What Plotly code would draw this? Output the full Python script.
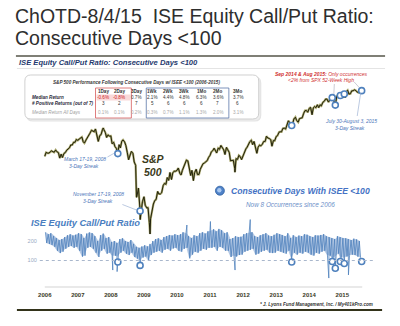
import math
import pandas as pd
import plotly.graph_objects as go

W, H = 400, 326

# ---------------- data ----------------
# S&P 500, semi-monthly readings (1st and 15th of each month), Jan 2006 - Aug 2015
spx_start = "2006-01-01"
spx_values = [
    1248, 1287, 1280, 1280, 1291, 1303, 1295, 1289, 1313, 1294, 1285, 1230,
    1270, 1236, 1277, 1285, 1311, 1321, 1336, 1366, 1367, 1396, 1396, 1427,
    1418, 1431, 1445, 1456, 1403, 1387, 1421, 1452, 1486, 1501, 1536, 1532,
    1519, 1553, 1465, 1406, 1474, 1484, 1547, 1548, 1509, 1451, 1481, 1467,
    1468, 1380, 1395, 1349, 1331, 1288, 1370, 1334, 1409, 1423, 1400, 1360,
    1284, 1214, 1261, 1298, 1277, 1192, 1161, 907, 968, 873, 816, 868,
    903, 843, 826, 827, 735, 757, 811, 852, 877, 883, 942, 923,
    923, 932, 987, 1004, 998, 1053, 1029, 1096, 1036, 1093, 1108, 1107,
    1115, 1136, 1089, 1075, 1115, 1150, 1178, 1211, 1202, 1136, 1070, 1115,
    1027, 1096, 1125, 1079, 1080, 1125, 1146, 1176, 1184, 1197, 1206, 1236,
    1258, 1293, 1307, 1332, 1306, 1281, 1332, 1320, 1361, 1338, 1314, 1266,
    1340, 1316, 1287, 1204, 1204, 1209, 1131, 1224, 1218, 1257, 1244, 1215,
    1258, 1289, 1324, 1343, 1374, 1402, 1419, 1370, 1405, 1330, 1278, 1342,
    1365, 1356, 1375, 1405, 1406, 1465, 1444, 1440, 1427, 1353, 1416, 1413,
    1462, 1472, 1513, 1519, 1518, 1560, 1562, 1552, 1597, 1658, 1631, 1626,
    1614, 1682, 1706, 1661, 1640, 1688, 1695, 1698, 1761, 1798, 1800, 1775,
    1831, 1848, 1741, 1838, 1859, 1841, 1885, 1842, 1883, 1870, 1924, 1937,
    1973, 1973, 1925, 1955, 2003, 1984, 1946, 1862, 2018, 2039, 2053, 1989,
    2058, 1992, 1995, 2096, 2117, 2053, 2059, 2106, 2108, 2123, 2111, 2085,
    2077, 2108, 2104,
]
spx_extremes_dates = ["2007-10-09", "2008-10-10", "2008-11-20", "2009-03-09", "2011-10-03"]
spx_extremes = [1565, 899, 752, 670, 1099]

# ISE Equity Call/Put ratio: monthly band high / low, Jan 2006 - Jul 2015
isee_start = "2006-01-01"
isee_hi = [
    245, 235, 240, 225, 215, 205, 210, 220, 230, 235, 228, 232,
    240, 235, 215, 238, 244, 240, 225, 200, 230, 238, 215, 220,
    195, 200, 190, 210, 214, 200, 195, 205, 185, 170, 165, 172,
    178, 172, 185, 200, 210, 214, 205, 220, 225, 231, 228, 235,
    230, 235, 245, 240, 225, 215, 230, 225, 240, 245, 238, 250,
    255, 260, 250, 262, 255, 240, 245, 210, 215, 225, 220, 222,
    235, 240, 245, 245, 225, 220, 230, 235, 240, 228, 225, 232,
    240, 235, 231, 225, 240, 215, 230, 220, 228, 225, 235, 232,
    225, 220, 230, 228, 231, 235, 225, 220, 215, 210, 225, 220,
    215, 214, 210, 205, 212, 208, 200,
]
isee_lo = [
    190, 185, 180, 170, 150, 138, 145, 160, 170, 175, 165, 170,
    150, 120, 125, 165, 170, 160, 140, 118, 150, 160, 135, 140,
    125, 125, 120, 140, 150, 135, 128, 140, 118, 110, 100, 115,
    120, 100, 128, 140, 145, 150, 140, 155, 160, 150, 162, 165,
    150, 145, 160, 165, 111, 130, 145, 140, 150, 160, 155, 165,
    165, 170, 150, 170, 165, 150, 150, 118, 125, 120, 128, 130,
    145, 150, 155, 160, 130, 135, 145, 150, 155, 140, 138, 140,
    150, 145, 140, 135, 150, 110, 140, 130, 140, 135, 145, 140,
    130, 125, 140, 135, 145, 150, 130, 125, 110, 120, 135, 115,
    115, 120, 125, 130, 128, 120, 115,
]
# isolated single-day spikes of the ratio
spike_dates = ["2008-01-22", "2008-03-10", "2010-04-20", "2011-01-05",
               "2011-10-04", "2012-03-20", "2014-08-05", "2015-03-10"]
spike_values = [51, 43, 282, 300, 51, 310, 10, 26]

# Occurrences of consecutive days with ISEE < 100
occ_dates = ["2008-03-18", "2008-11-19", "2013-06-21", "2014-09-12",
             "2014-10-16", "2014-12-10", "2015-01-23", "2015-08-03"]
occ_spx = [1275, 806, 1596, 1995, 1880, 2030, 2055, 2110]
occ_isee = [92, 75, 92, 95, 60, 95, 85, 95]

years = [2006, 2007, 2008, 2009, 2010, 2011, 2012, 2013, 2014, 2015]
isee_ticks = [100, 200]

# Table
periods = ["1Day", "2Day", "3Day", "1Wk", "2Wk", "3Wk", "1Mo", "2Mo", "3Mo"]
median_ret = [-0.6, -0.8, 0.7, 2.1, 4.4, 4.8, 6.3, 3.6, 3.7]
pos_ret = [3, 2, 7, 5, 6, 6, 6, 7, 6]
median_all = [0.1, 0.1, 0.2, 0.3, 0.7, 1.1, 1.3, 2.0, 3.1]

# ---------------- series assembly ----------------
occ_idx = pd.to_datetime(occ_dates)
spx = pd.concat([
    pd.Series(spx_values, index=pd.date_range(spx_start, periods=len(spx_values), freq="SMS")),
    pd.Series(occ_spx, index=occ_idx),
    pd.Series(spx_extremes, index=pd.to_datetime(spx_extremes_dates)),
]).sort_index()

months = pd.date_range(isee_start, periods=len(isee_hi), freq="MS")
ix, iy = [], []
for m, hi, lo in zip(months, isee_hi, isee_lo):
    ix += [m + pd.Timedelta(days=7), m + pd.Timedelta(days=21)]
    iy += [hi, lo]
isee = pd.concat([pd.Series(iy, index=ix),
                  pd.Series(spike_values, index=pd.to_datetime(spike_dates)),
                  pd.Series(occ_isee, index=occ_idx)]).sort_index()
band_x = months + pd.Timedelta(days=14)


# ---------------- layout helpers ----------------
def X(px):
    return px / W


def Y(py):
    return 1 - py / H


# x scale: 2006-01-01 at px 43, 2015-01-01 at px 342
t0, t1 = pd.Timestamp("2006-01-01"), pd.Timestamp("2015-01-01")
per_px = (t1 - t0) / (342 - 43)
xdom = [38 / W, 373 / W]
xr = [t0 + per_px * (38 - 43), t0 + per_px * (373 - 43)]


# log S&P scale: 1565 at py 128, 125 px per natural-log unit
def log10_at(py):
    return (math.log(1565) - (py - 128) / 125) / math.log(10)


# ISEE scale: 0 at py 280, 0.195 px per unit
def isee_at(py):
    return (280 - py) / 0.195


y2dom = [(H - 287) / H, 1]

OLIVE = "#33331a"
BLUE = "#4f81bd"
TXTBLUE = "#4a74b8"

fig = go.Figure()

fig.add_trace(go.Scatter(x=spx.index, y=spx.values, mode="lines",
                         line=dict(color="rgba(140,138,60,0.75)", width=2.2), yaxis="y"))
fig.add_trace(go.Scatter(x=spx.index, y=spx.values, mode="lines",
                         line=dict(color="#22220c", width=1.0), yaxis="y"))
fig.add_trace(go.Scatter(x=occ_idx, y=occ_spx, mode="markers",
                         marker=dict(symbol="circle", size=6, color="white",
                                     line=dict(color=BLUE, width=1.6)),
                         yaxis="y"))

fig.add_trace(go.Scatter(x=band_x, y=isee_hi, mode="lines", line=dict(width=0),
                         yaxis="y2"))
fig.add_trace(go.Scatter(x=band_x, y=isee_lo, mode="lines", line=dict(width=0),
                         fill="tonexty", fillcolor="rgba(90,135,195,0.45)", yaxis="y2"))
fig.add_trace(go.Scatter(x=isee.index, y=isee.values, mode="lines",
                         line=dict(color=BLUE, width=0.8), yaxis="y2"))
fig.add_trace(go.Scatter(x=occ_idx, y=occ_isee, mode="markers",
                         marker=dict(symbol="circle", size=6, color="white",
                                     line=dict(color=BLUE, width=1.6)),
                         yaxis="y2"))

shapes = []


def hline(px0, px1, py, color, width, dash="solid"):
    shapes.append(dict(type="line", xref="paper", yref="paper",
                       x0=X(px0), x1=X(px1), y0=Y(py), y1=Y(py),
                       line=dict(color=color, width=width, dash=dash)))


def seg(px0, py0, px1, py1, color, width):
    shapes.append(dict(type="line", xref="paper", yref="paper",
                       x0=X(px0), x1=X(px1), y0=Y(py0), y1=Y(py1),
                       line=dict(color=color, width=width)))


def rect(px0, py0, px1, py1, color, width, fill="rgba(0,0,0,0)"):
    shapes.append(dict(type="rect", xref="paper", yref="paper",
                       x0=X(px0), x1=X(px1), y0=Y(py1), y1=Y(py0),
                       line=dict(color=color, width=width), fillcolor=fill))


def rrect(px0, py0, px1, py1, r, color, width, fill):
    def p(a, b):
        return f"{X(a):.5f},{Y(b):.5f}"
    path = (f"M {p(px0 + r, py0)} L {p(px1 - r, py0)} Q {p(px1, py0)} {p(px1, py0 + r)} "
            f"L {p(px1, py1 - r)} Q {p(px1, py1)} {p(px1 - r, py1)} "
            f"L {p(px0 + r, py1)} Q {p(px0, py1)} {p(px0, py1 - r)} "
            f"L {p(px0, py0 + r)} Q {p(px0, py0)} {p(px0 + r, py0)} Z")
    shapes.append(dict(type="path", xref="paper", yref="paper", path=path,
                       line=dict(color=color, width=width), fillcolor=fill, layer="below"))


# separators
hline(14, 385, 56, "#555548", 1.6)
hline(15, 385, 68.5, "#dddddd", 0.8)
hline(15, 382, 310, OLIVE, 2)
# x axis line
hline(43, 362, 287, "#c8c8c8", 0.8)
# ISEE 100 level
shapes.append(dict(type="line", xref="paper", yref="y2", x0=X(38), x1=X(373),
                   y0=100, y1=100, line=dict(color="#a9b7cc", width=1, dash="dot")))

# table box
rrect(25, 77, 260, 121, 6, "#e4e4e4", 1.2, "#eeeeee")
rrect(23, 75, 258, 119, 6, "#c4c4c4", 0.8, "white")
rect(95, 94.5, 129, 100.5, "rgba(0,0,0,0)", 0, "#f9d9d9")
rect(94, 88, 130, 118, "#d65a5a", 0.8)
rect(145, 88, 228, 118, "#5a76aa", 0.8)

# leader lines
LEAD = "#8ea6cc"
seg(106, 157, 114, 152.5, LEAD, 0.6)
seg(121, 204.5, 136.5, 210.5, LEAD, 0.6)
seg(357, 116, 360.5, 93, LEAD, 0.6)
seg(334, 84, 333.5, 94, "#a8a8b8", 0.6)
seg(354, 82, 359, 87.5, "#a8a8b8", 0.6)

# legend bubble
shapes.append(dict(type="circle", xref="paper", yref="paper",
                   x0=X(214.5), x1=X(223.5), y0=Y(195.2), y1=Y(186.2),
                   fillcolor="#4f82c8", line=dict(color="#2f5f9f", width=0.8)))
shapes.append(dict(type="circle", xref="paper", yref="paper",
                   x0=X(216.2), x1=X(220.6), y0=Y(192.4), y1=Y(188.0),
                   fillcolor="#a9c8f0", line=dict(width=0)))

ann = []


def text(t, px, py, size, color, xanchor="center", family="Liberation Sans"):
    ann.append(dict(text=t, x=X(px), y=Y(py), xref="paper", yref="paper",
                    showarrow=False, xanchor=xanchor, yanchor="middle",
                    font=dict(size=size, color=color, family=family)))


# title
text("ChOTD-8/4/15 \u00a0ISE Equity Call/Put Ratio:", 11, 16, 19.5, "#2e2e2e", "left")
text("Consecutive Days &lt;100", 11, 38.5, 19.5, "#2e2e2e", "left")
text("<b><i>ISE Equity Call/Put Ratio: Consecutive Days &lt;100</i></b>", 15, 62, 7.6,
     "#1f3a6e", "left")

# table
text("<b><i>S&P 500 Performance Following Consecutive Days w/ ISEE &lt;100 (2006-2015)</i></b>",
     135, 82, 4.6, "#3a3a3a")
col_px = [102, 118, 135, 151, 167, 183, 200, 217, 237]
text("<b><i>Median Return</i></b>", 28, 97.7, 4.6, "#2a2a3a", "left")
text("<b><i># Positive Returns (out of 7)</i></b>", 28, 104, 4.6, "#2a2a3a", "left")
text("<i>Median Return All Days</i>", 28, 112.5, 4.6, "#a0a0a0", "left")
for i, cx in enumerate(col_px):
    text(f"<b>{periods[i]}</b>", cx, 91.5, 4.6, "#333333")
    c1 = "#cc2222" if median_ret[i] < 0 else "#333333"
    text(f"{median_ret[i]:.1f}%", cx, 97.7, 4.6, c1)
    text(f"{pos_ret[i]}", cx, 104, 4.6, "#333333")
    text(f"{median_all[i]:.1f}%", cx, 112.5, 4.6, "#a8a8a8")

# callouts
RED = "#d03030"
text("<b><i>Sep 2014 & Aug 2015:</i></b><i> Only occurrences</i>", 321, 74, 5, RED)
text("<i>&lt;2% from SPX 52-Week High</i>", 321, 79.5, 5, RED)
text("<i>July 30-August 3, 2015</i>", 351, 120.7, 5, TXTBLUE)
text("<i>3-Day Streak</i>", 350, 127.5, 5, TXTBLUE)
text("<i>March 17-19, 2008</i>", 83, 159.3, 5, TXTBLUE)
text("<i>3-Day Streak</i>", 82.5, 166, 5, TXTBLUE)
text("<i>November 17-19, 2008</i>", 96.5, 194, 5, TXTBLUE)
text("<i>3-Day Streak</i>", 96, 200.7, 5, TXTBLUE)
text("<b><i>S&P</i></b>", 152, 159.3, 10.5, "#3a3a1a")
text("<b><i>500</i></b>", 152, 171.5, 10.5, "#3a3a1a")
text("<b><i>Consecutive Days With ISEE &lt;100</i></b>", 228, 190.7, 8.6, "#4472c4", "left")
text("<i>Now 8 Occurrences since 2006</i>", 290, 204, 6.4, "#6c8fc8")
text("<b><i>ISE Equity Call/Put Ratio</i></b>", 27, 223, 9.3, "#4a7ebf", "left")
text("<b><i>* J. Lyons Fund Management, Inc. / My401kPro.com</i></b>", 375, 304.3, 4.6,
     "#333333", "right")

fig.update_layout(
    width=W, height=H, margin=dict(l=0, r=0, t=0, b=0),
    paper_bgcolor="white", plot_bgcolor="rgba(0,0,0,0)",
    showlegend=False, hovermode=False,
    shapes=shapes, annotations=ann,
    xaxis=dict(domain=xdom, range=xr, anchor="y2", showgrid=False, zeroline=False,
               showline=False, ticks="",
               tickvals=[pd.Timestamp(f"{y}-01-01") for y in years],
               ticktext=[f"<b>{y}</b>" for y in years],
               tickfont=dict(size=6, color="#3a3a1f", family="Liberation Sans"),
               ticklabelstandoff=3),
    yaxis=dict(domain=[0, 1], type="log", range=[log10_at(H), log10_at(0)],
               anchor="x", visible=False),
    yaxis2=dict(domain=y2dom, range=[isee_at(287), isee_at(0)], anchor="x",
                showgrid=False, zeroline=False, showline=False, ticks="",
                tickvals=isee_ticks, ticktext=[str(v) for v in isee_ticks],
                tickfont=dict(size=5.5, color="#9aaac4", family="Liberation Sans"),
                ticklabelstandoff=2),
)

fig.write_html("out.html")
